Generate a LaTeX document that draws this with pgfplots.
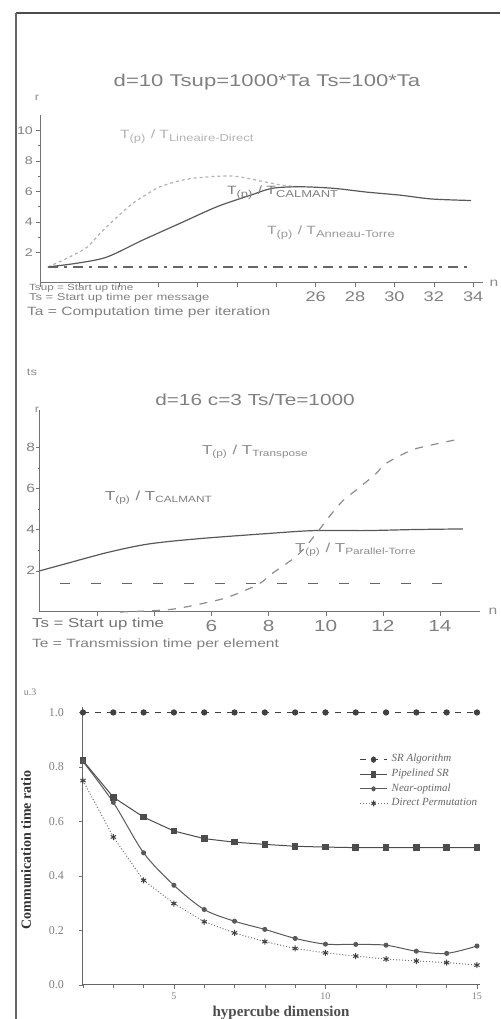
\documentclass[border=0pt]{standalone}
\usepackage{pgfplots}
\pgfplotsset{compat=1.18}
\usepackage{fontspec}
\setmainfont{Liberation Sans}
\newfontfamily\wide{Liberation Sans}[FakeStretch=1.3]
\newfontfamily\serif{Liberation Serif}

\begin{document}
\begin{tikzpicture}
\path[use as bounding box] (0,0) rectangle (250pt,509.5pt);
% frame of the scanned page
\draw[black!70, line width=1pt] (8pt,503pt) -- (250pt,503pt);
\draw[black!60, line width=0.8pt] (8pt,503pt) -- (8pt,0pt);

% ---------------- Panel 1 ----------------
\begin{axis}[
  at={(20pt,368pt)}, anchor=south west,
  scale only axis, width=221.5pt, height=84pt,
  xmin=12, xmax=34.5, ymin=0, ymax=11,
  axis x line=bottom, axis y line=left,
  axis line style={black!55, line width=0.5pt, -},
  xtick={12,14,...,34}, xticklabels={,,,,,,,26,28,30,32,34},
  ytick={2,4,6,8,10}, minor y tick num=1,
  major tick length=2pt, minor tick length=1.2pt,
  tick style={black!55}, tick align=outside,
  xticklabel style={font=\wide\fontsize{7}{7}\selectfont, text=black!50, yshift=1pt},
  yticklabel style={font=\wide\fontsize{5.5}{5.5}\selectfont, text=black!50, xshift=2pt},
  /pgf/number format/assume math mode=true,
  clip=false,
]
\addplot[black!60, line width=0.6pt, dash pattern=on 5pt off 3pt on 1.5pt off 3pt] coordinates {(12.4,1.05) (33.9,1.05)};
\addplot[black!30, line width=0.6pt, dash pattern=on 1.5pt off 1.5pt, smooth] coordinates {
 (12.4,1.05) (13.5,1.7) (14.4,2.35) (15.05,3.25) (15.9,4.3) (16.7,5.2) (17.6,5.95)
 (18.1,6.3) (19.1,6.7) (20.1,6.9) (21.8,7.0) (23.5,6.6) (24.3,6.4) (25.2,6.3)};
\addplot[black!65, line width=0.6pt, smooth] coordinates {
 (12.4,1.05) (13.9,1.3) (15.4,1.7) (17.2,2.8) (19.1,3.9) (21.0,5.0) (22.7,5.75)
 (23.8,6.2) (25.2,6.3) (26.9,6.2) (28.6,5.95) (30.3,5.75) (31.9,5.5) (33.9,5.4)};
\end{axis}

% ---------------- Panel 2 ----------------
\begin{axis}[
  at={(20pt,203.5pt)}, anchor=south west,
  scale only axis, width=220pt, height=101pt,
  xmin=0, xmax=15.4, ymin=0, ymax=9.8,
  axis x line=bottom, axis y line=left,
  axis line style={black!55, line width=0.5pt, -},
  xtick={2,4,...,14}, xticklabels={,,6,8,10,12,14},
  ytick={2,4,6,8}, minor y tick num=1,
  major tick length=2pt, minor tick length=1.2pt,
  tick style={black!55}, tick align=outside,
  xticklabel style={font=\wide\fontsize{8}{8}\selectfont, text=black!50, yshift=1.5pt},
  yticklabel style={font=\wide\fontsize{6}{6}\selectfont, text=black!50, xshift=3pt},
  /pgf/number format/assume math mode=true,
  clip=false,
]
\addplot[black!60, line width=0.6pt, dash pattern=on 5pt off 10.5pt] coordinates {(0.7,1.37) (14.7,1.37)};
\addplot[black!65, line width=0.6pt, smooth] coordinates {
 (0,2.0) (0.87,2.33) (2.4,2.9) (3.8,3.3) (5.5,3.55) (7.9,3.8) (9.6,3.95) (11.4,3.95) (13.1,4.0) (14.8,4.03)};
\addplot[black!45, line width=0.6pt, dash pattern=on 4pt off 4pt, smooth] coordinates {
 (2.8,0.0) (4.6,0.13) (6.1,0.54) (6.7,0.78) (7.65,1.35) (8.1,1.84) (9.05,2.8) (9.75,3.95)
 (10.05,4.5) (10.6,5.4) (11.05,5.9) (11.75,6.7) (12.1,7.2) (13.0,7.85) (13.7,8.1) (14.7,8.4)};
\end{axis}

% ---------------- Panel 3 ----------------
\begin{axis}[
  at={(41.5pt,17pt)}, anchor=south west,
  scale only axis, width=198.5pt, height=139pt,
  xmin=2, xmax=15.1, ymin=0, ymax=1.02,
  axis x line=bottom, axis y line=left,
  axis line style={black!60, line width=0.5pt, -},
  xtick={5,10,15}, minor xtick={2,3,...,15},
  ytick={0,0.2,0.4,0.6,0.8,1.0},
  major tick length=2pt, minor tick length=1.5pt,
  yticklabel style={/pgf/number format/fixed, /pgf/number format/fixed zerofill, /pgf/number format/precision=1, font=\serif\fontsize{6}{6}\selectfont, xshift=-4pt},
  xticklabel style={font=\serif\fontsize{5}{5}\selectfont, yshift=1.5pt},
  tick style={black!55}, tick align=outside,
  tick label style={text=black!50},
  /pgf/number format/assume math mode=true,
  legend style={draw=none, fill=none, at={(0.68,0.86)}, anchor=north west,
    font=\serif\itshape\fontsize{5.5}{6}\selectfont, text=black!60, row sep=-2pt},
  legend image post style={xscale=0.8},
  legend cell align=left,
  clip=false,
]
\addplot[black!75, line width=0.5pt, dash pattern=on 3pt off 3pt, mark=*, mark size=1.3pt, mark options={solid}] coordinates {
 (2,1.0) (3,1.0) (4,1.0) (5,1.0) (6,1.0) (7,1.0) (8,1.0) (9,1.0) (10,1.0) (11,1.0) (12,1.0) (13,1.0) (14,1.0) (15,1.0)};
\addlegendentry{SR Algorithm}
\addplot[black!70, line width=0.5pt, mark=square*, mark size=1.4pt] coordinates {
 (2,0.823) (3,0.689) (4,0.616) (5,0.565) (6,0.537) (7,0.524) (8,0.516) (9,0.509) (10,0.506) (11,0.504) (12,0.504) (13,0.504) (14,0.504) (15,0.504)};
\addlegendentry{Pipelined SR}
\addplot[black!65, line width=0.5pt, mark=*, mark size=1pt, smooth] coordinates {
 (2,0.82) (3,0.67) (4,0.485) (5,0.366) (6,0.277) (7,0.234) (8,0.204) (9,0.171) (10,0.150) (11,0.149) (12,0.146) (13,0.124) (14,0.116) (15,0.143)};
\addlegendentry{Near-optimal}
\addplot[black!55, line width=0.5pt, densely dotted, mark=asterisk, mark size=1.5pt, mark options={solid, black!75}] coordinates {
 (2,0.75) (3,0.543) (4,0.384) (5,0.299) (6,0.232) (7,0.191) (8,0.159) (9,0.134) (10,0.118) (11,0.106) (12,0.095) (13,0.088) (14,0.082) (15,0.073)};
\addlegendentry{Direct Permutation}
\end{axis}

% ---------------- texts (pixel coordinates) ----------------
\begin{scope}[shift={(0pt,509.5pt)}, x=0.5pt, y=-0.5pt]
% panel 1
\node[text=black!50, font=\wide\fontsize{8.5}{9}\selectfont] at (267,82) {d=10 Tsup=1000*Ta Ts=100*Ta};
\node[text=black!30, font=\wide\fontsize{6}{6}\selectfont, anchor=west] at (113,137) {T\textsubscript{(p)} / T\textsubscript{Lineaire-Direct}};
\node[text=black!50, font=\wide\fontsize{6}{6}\selectfont, anchor=west] at (220,193) {T\textsubscript{(p)} / T\textsubscript{CALMANT}};
\node[text=black!40, font=\wide\fontsize{6}{6}\selectfont, anchor=west] at (260,233) {T\textsubscript{(p)} / T\textsubscript{Anneau-Torre}};
\node[text=black!50, font=\wide\fontsize{4.5}{4.5}\selectfont, anchor=west] at (22,288) {Tsup = Start up time};
\node[text=black!50, font=\wide\fontsize{5}{5}\selectfont, anchor=west] at (22,298) {Ts = Start up time per message};
\node[text=black!50, font=\wide\fontsize{6}{6}\selectfont, anchor=west] at (20,312) {Ta = Computation time per iteration};
\node[text=black!45, font=\wide\fontsize{5}{5}\selectfont] at (37,98) {r};
\node[text=black!45, font=\wide\fontsize{6}{6}\selectfont] at (494,283) {n};
% panel 2
\node[text=black!50, font=\wide\fontsize{8}{8}\selectfont] at (255,400) {d=16 c=3 Ts/Te=1000};
\node[text=black!45, font=\wide\fontsize{6.5}{6.5}\selectfont, anchor=west] at (195,452) {T\textsubscript{(p)} / T\textsubscript{Transpose}};
\node[text=black!50, font=\wide\fontsize{6.5}{6.5}\selectfont, anchor=west] at (98,498) {T\textsubscript{(p)} / T\textsubscript{CALMANT}};
\node[text=black!45, font=\wide\fontsize{6.5}{6.5}\selectfont, anchor=west] at (288,550) {T\textsubscript{(p)} / T\textsubscript{Parallel-Torre}};
\node[text=black!55, font=\wide\fontsize{6.5}{6.5}\selectfont, anchor=west] at (25,624) {Ts = Start up time};
\node[text=black!50, font=\wide\fontsize{6}{6}\selectfont, anchor=west] at (25,644) {Te = Transmission time per element};
\node[text=black!45, font=\wide\fontsize{5}{5}\selectfont] at (32,372) {ts};
\node[text=black!45, font=\wide\fontsize{5}{5}\selectfont] at (37,410) {r};
\node[text=black!45, font=\wide\fontsize{6}{6}\selectfont] at (493,611) {n};
% panel 3
\node[text=black!50, font=\serif\fontsize{5}{5}\selectfont] at (30,692) {u.3};
\node[text=black!80, font=\serif\bfseries\fontsize{7}{7}\selectfont, rotate=90] at (26,850) {Communication time ratio};
\node[text=black!70, font=\serif\bfseries\fontsize{7.5}{7.5}\selectfont] at (281,1013) {hypercube dimension};
\end{scope}
\end{tikzpicture}
\end{document}
